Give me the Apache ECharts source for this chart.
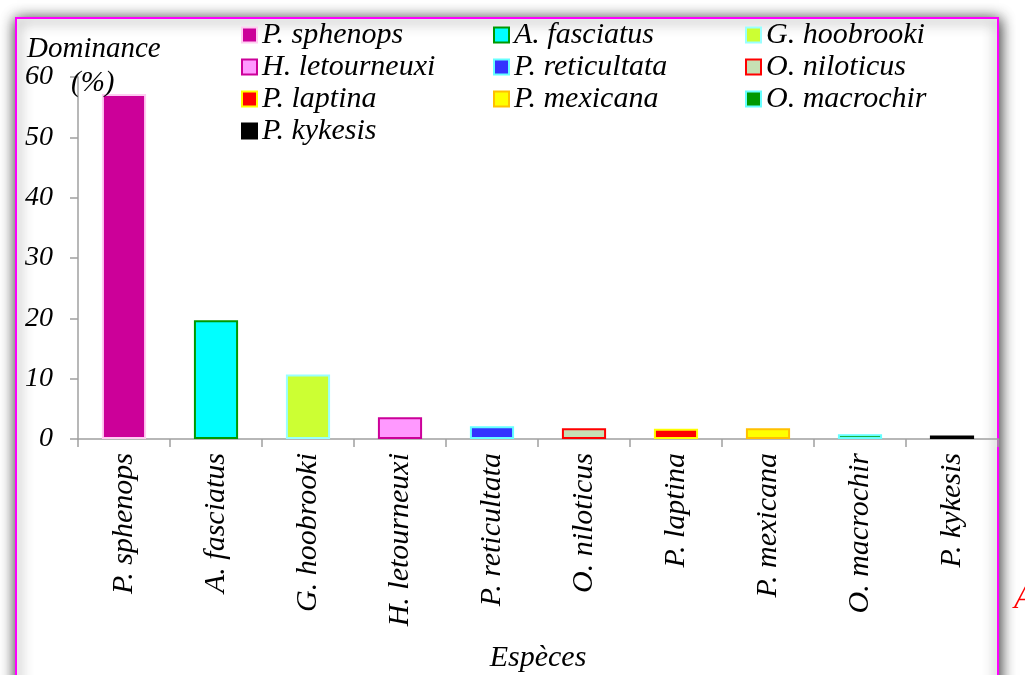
<!DOCTYPE html>
<html>
<head>
<meta charset="utf-8">
<script src="https://cdn.jsdelivr.net/npm/echarts@6/dist/echarts.min.js"></script>
<style>html,body{margin:0;padding:0;background:#fff}#c{width:1025px;height:675px}</style>
</head>
<body>
<div id="c"></div>
<script>
const categories = ['P. sphenops','A. fasciatus','G. hoobrooki','H. letourneuxi','P. reticultata','O. niloticus','P. laptina','P. mexicana','O. macrochir','P. kykesis'];
const values = [57.2, 19.7, 10.7, 3.6, 2.1, 1.8, 1.7, 1.8, 0.8, 0.6];
const fills = ['#CC0099','#00FFFF','#CCFF33','#FF99FF','#3333FF','#C6E0B4','#FF0000','#FFFF00','#009900','#000000'];
const borders = ['#FFCCF2','#009900','#99FFFF','#CC0099','#66FFFF','#FF0000','#FFFF00','#FFC000','#66FFFF','#000000'];
const yTicks = [0,10,20,30,40,50,60];
const legendCols = [
  ['P. sphenops','H. letourneuxi','P. laptina','P. kykesis'],
  ['A. fasciatus','P. reticultata','P. mexicana'],
  ['G. hoobrooki','O. niloticus','O. macrochir']
];

const FONT = '"Liberation Serif", "Times New Roman", serif';
const txt = {fontFamily: FONT, fontStyle: 'italic', fontSize: 30, color: '#000'};
const chart = echarts.init(document.getElementById('c'), null, {renderer: 'canvas'});

const legendLefts = [241, 493, 745];
const option = {
  backgroundColor: '#fff',
  animation: false,
  graphic: [
    {type: 'rect', z: -100, silent: true,
     shape: {x: 16, y: 18, width: 982, height: 720},
     style: {fill: '#fff', stroke: '#FF00FF', lineWidth: 2, shadowBlur: 14, shadowOffsetX: 1, shadowOffsetY: 2, shadowColor: 'rgba(0,0,0,0.85)'}},
    {type: 'text', z: 10, x: 27, y: 49,
     style: {text: 'Dominance', font: 'italic 29px ' + FONT, fill: '#000', textVerticalAlign: 'middle'}},
    {type: 'text', z: 10, x: 71, y: 83,
     style: {text: '(%)', font: 'italic 29px ' + FONT, fill: '#000', textVerticalAlign: 'middle'}},
    {type: 'text', z: 10, x: 1014, y: 599,
     style: {text: 'A', font: 'italic 33px ' + FONT, fill: '#FF0000', textVerticalAlign: 'middle'}}
  ],
  legend: legendCols.map((col, k) => ({
    data: col,
    orient: 'vertical',
    left: legendLefts[k],
    top: 20,
    icon: 'rect',
    itemWidth: 15,
    itemHeight: 15,
    itemGap: 2,
    padding: 0,
    selectedMode: false,
    textStyle: Object.assign({}, txt, {fontSize: 30})
  })),
  grid: {left: 78, right: 27, top: 77, bottom: 236, containLabel: false, outerBoundsMode: 'none'},
  xAxis: {
    type: 'category',
    data: categories,
    name: 'Espèces',
    nameLocation: 'middle',
    nameGap: 204,
    nameTextStyle: txt,
    axisLine: {lineStyle: {color: '#A0A0A0', width: 1.5}},
    axisTick: {show: true, length: 8, lineStyle: {color: '#A0A0A0', width: 1.5}},
    axisLabel: Object.assign({}, txt, {rotate: 90, margin: 14, interval: 0})
  },
  yAxis: {
    type: 'value',
    min: 0, max: 60, interval: 10,
    axisLine: {show: true, lineStyle: {color: '#A0A0A0', width: 1.5}},
    axisTick: {show: true, length: 8, lineStyle: {color: '#A0A0A0', width: 1.5}},
    splitLine: {show: false},
    axisLabel: Object.assign({}, txt, {fontSize: 28, margin: 25, formatter: v => yTicks.includes(v) ? String(v) : ''})
  },
  series: categories.map((c, i) => ({
    name: c,
    type: 'bar',
    stack: 'all',
    barWidth: '48%',
    data: categories.map((_, j) => j === i ? values[i] : null),
    itemStyle: {color: fills[i], borderColor: borders[i], borderWidth: 2}
  }))
};
chart.setOption(option);
</script>
</body>
</html>
